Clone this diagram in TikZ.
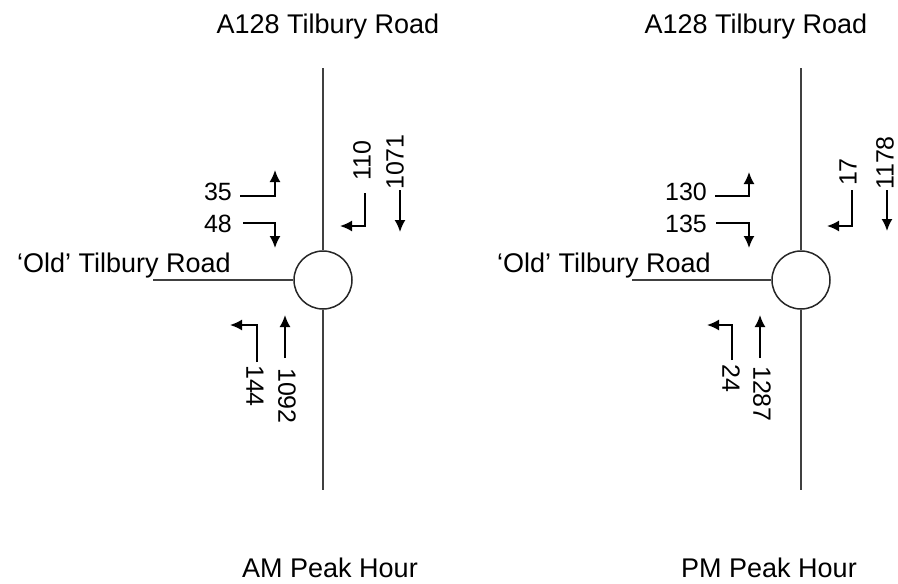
\documentclass[tikz,border=0pt]{standalone}
\usepackage{fontspec}
\setmainfont{Liberation Sans}
\usetikzlibrary{arrows.meta}

\begin{document}
\begin{tikzpicture}
[x=1pt,y=1pt,
 lbl/.style={font=\fontsize{27}{32}\selectfont,inner sep=0pt},
 num/.style={font=\fontsize{25}{30}\selectfont,inner sep=0pt},
 road/.style={line width=1.8pt,draw=black!75},
 rbt/.style={circle,draw=black!85,line width=1.5pt,minimum size=58pt,inner sep=0pt},
 flow/.style={line width=1.8pt,-{Latex[length=12pt,width=11pt]}}]
\useasboundingbox (0,0) rectangle (898,-584);
% AM peak
\node[lbl,anchor=base] (amtop) at (328,-33) {A128 Tilbury Road};
\node[lbl,anchor=base west] (amold) at (17,-272) {`Old' Tilbury Road};
\node[lbl,anchor=base] (amhour) at (330,-577) {AM Peak Hour};
\node[rbt] (amc) at (323,-280) {};
\coordinate (amN) at (323,-68);
\coordinate (amS) at (323,-490);
\coordinate (amW) at (153,-280);
\draw[road] (amN) -- (amc);
\draw[road] (amc) -- (amS);
\draw[road] (amW) -- (amc);
\node[num] (n35) at (218,-192) {35};
\node[num] (n48) at (218,-224) {48};
\node[num,rotate=90] (n110) at (362,-161) {110};
\node[num,rotate=90] (n1071) at (395,-162) {1071};
\node[num,rotate=-90] (n1092) at (287,-396) {1092};
\node[num,rotate=-90] (n144) at (255,-386) {144};
\coordinate (a35) at (240,-196);
\coordinate (b35) at (275,-170);
\coordinate (a48) at (243,-223);
\coordinate (b48) at (275,-248);
\coordinate (a110) at (365,-193);
\coordinate (b110) at (340,-226);
\coordinate (a1071) at (400,-190);
\coordinate (b1071) at (400,-232);
\coordinate (a1092) at (285,-358);
\coordinate (b1092) at (285,-315);
\coordinate (a144) at (257,-362);
\coordinate (b144) at (230,-325);
\draw[flow] (a35) -| (b35);
\draw[flow] (a48) -| (b48);
\draw[flow] (a110) |- (b110);
\draw[flow] (a1071) -- (b1071);
\draw[flow] (a1092) -- (b1092);
\draw[flow] (a144) |- (b144);
% PM peak
\node[lbl,anchor=base] (pmtop) at (756,-33) {A128 Tilbury Road};
\node[lbl,anchor=base west] (pmold) at (497,-272) {`Old' Tilbury Road};
\node[lbl,anchor=base] (pmhour) at (769,-577) {PM Peak Hour};
\node[rbt] (pmc) at (801,-280) {};
\coordinate (pmN) at (801,-68);
\coordinate (pmS) at (801,-490);
\coordinate (pmW) at (632,-280);
\draw[road] (pmN) -- (pmc);
\draw[road] (pmc) -- (pmS);
\draw[road] (pmW) -- (pmc);
\node[num] (n130) at (686,-192) {130};
\node[num] (n135) at (686,-224) {135};
\node[num,rotate=90] (n17) at (848,-172) {17};
\node[num,rotate=90] (n1178) at (885,-163) {1178};
\node[num,rotate=-90] (n1287) at (762,-394) {1287};
\node[num,rotate=-90] (n24) at (731,-378) {24};
\coordinate (a130) at (715,-196);
\coordinate (b130) at (749,-172);
\coordinate (a135) at (716,-223);
\coordinate (b135) at (749,-248);
\coordinate (a17) at (852,-190);
\coordinate (b17) at (827,-226);
\coordinate (a1178) at (887,-190);
\coordinate (b1178) at (887,-231);
\coordinate (a1287) at (760,-358);
\coordinate (b1287) at (760,-315);
\coordinate (a24) at (732,-360);
\coordinate (b24) at (707,-325);
\draw[flow] (a130) -| (b130);
\draw[flow] (a135) -| (b135);
\draw[flow] (a17) |- (b17);
\draw[flow] (a1178) -- (b1178);
\draw[flow] (a1287) -- (b1287);
\draw[flow] (a24) |- (b24);
\end{tikzpicture}
\end{document}
